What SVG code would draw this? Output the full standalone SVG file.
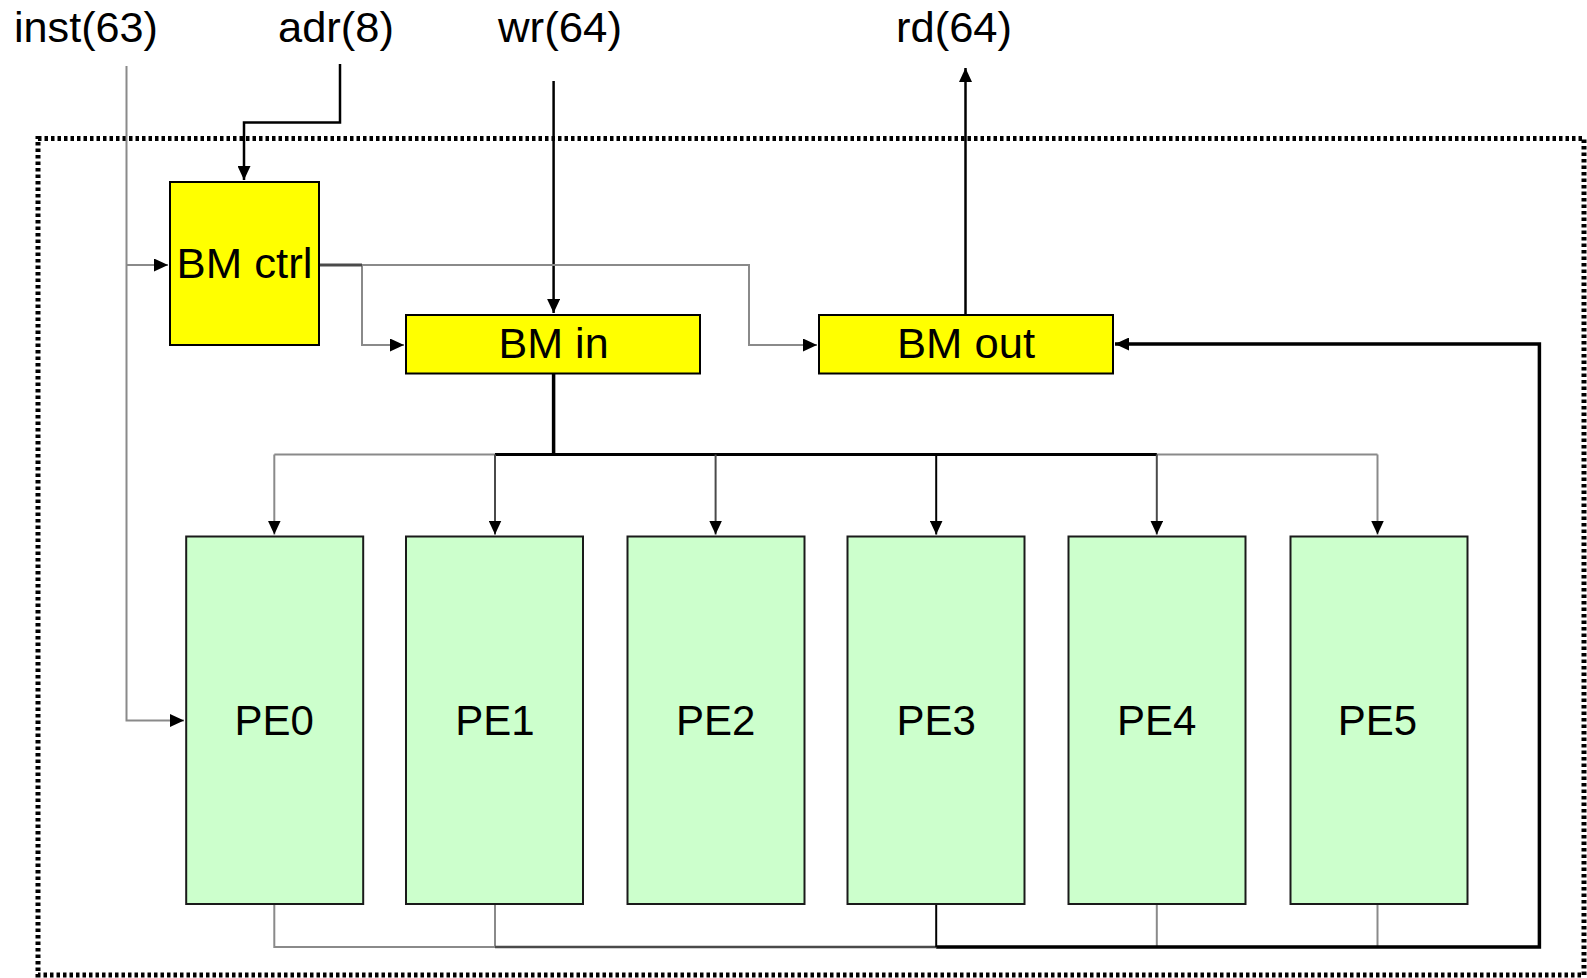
<svg xmlns="http://www.w3.org/2000/svg" width="1587" height="978" viewBox="0 0 1587 978">
<style>
text{font-family:"Liberation Sans",Arial,sans-serif;font-size:42px;fill:#000;text-anchor:middle}
.y{fill:#FFFF00;stroke:#000;stroke-width:2}
.g{fill:#CCFFCC;stroke:#1a1a1a;stroke-width:2}
.c{fill:none;stroke-linejoin:miter}
.gr{stroke:#8a8a8a;stroke-width:2}
.dg{stroke:#4a4a4a;stroke-width:2}
.bk{stroke:#000;stroke-width:2.5}
.bt{stroke:#000;stroke-width:3.5}
</style>
<defs>
<marker id="ah" markerUnits="userSpaceOnUse" markerWidth="15" markerHeight="13" refX="14" refY="6.5" orient="auto">
<path d="M0,0 L14,6.5 L0,13 Z" fill="#000"/>
</marker>
</defs>
<rect x="38" y="138.5" width="1546" height="836.5" fill="none" stroke="#000" stroke-width="5" stroke-dasharray="3.5 3"/>
<g id="labels">
<text x="86" y="42" textLength="144" lengthAdjust="spacingAndGlyphs">inst(63)</text>
<text x="336" y="42" textLength="116" lengthAdjust="spacingAndGlyphs">adr(8)</text>
<text x="560" y="42" textLength="124" lengthAdjust="spacingAndGlyphs">wr(64)</text>
<text x="954" y="42" textLength="116" lengthAdjust="spacingAndGlyphs">rd(64)</text>
</g>
<g id="connectors">
<path class="c gr" d="M126.5 66 V720.5 H184" marker-end="url(#ah)"/>
<path class="c gr" d="M126.5 265 H168" marker-end="url(#ah)"/>
<path class="c bk" d="M340 64 V122.5 H244 V180" marker-end="url(#ah)"/>
<path class="c bk" d="M553.6 81 V313" marker-end="url(#ah)"/>
<path class="c bk" d="M965.5 315 V68" marker-end="url(#ah)"/>
<path class="c gr" d="M319 265 H749 V345 H817" marker-end="url(#ah)"/>
<path class="c gr" d="M362 265 V345 H404" marker-end="url(#ah)"/>
<path class="c dg" d="M319 265 H362" style="stroke-width:3"/>
<path class="c bt" d="M553.6 373.5 V454.5"/>
<path class="c gr" d="M274.3 454.5 H1377.5"/>
<path class="c bt" d="M495 454.5 H1156.8" style="stroke-width:3"/>
<path class="c gr" d="M274.3 454.5 V534.5" marker-end="url(#ah)"/>
<path class="c dg" d="M495 454.5 V534.5" marker-end="url(#ah)"/>
<path class="c dg" d="M715.6 454.5 V534.5" marker-end="url(#ah)"/>
<path class="c bk" d="M936.2 454.5 V534.5" style="stroke-width:2" marker-end="url(#ah)"/>
<path class="c dg" d="M1156.8 454.5 V534.5" marker-end="url(#ah)"/>
<path class="c gr" d="M1377.5 454.5 V534.5" marker-end="url(#ah)"/>
<path class="c gr" d="M274.3 904 V947 H495"/>
<path class="c gr" d="M495 904 V947"/>
<path class="c dg" d="M495 947 H936.2" style="stroke-width:2.5"/>
<path class="c bk" d="M936.2 904 V947" style="stroke-width:2"/>
<path class="c gr" d="M1156.8 904 V947"/>
<path class="c gr" d="M1377.5 904 V947"/>
<path class="c bt" d="M936.2 947 H1539.4 V344 H1115" marker-end="url(#ah)"/>
</g>
<g id="bm-ctrl"><rect class="y" x="170" y="182" width="149" height="163"/><text x="244.5" y="278" textLength="136" lengthAdjust="spacingAndGlyphs">BM ctrl</text></g>
<g id="bm-in"><rect class="y" x="406" y="315" width="294" height="58.5"/><text x="553.6" y="358" textLength="110" lengthAdjust="spacingAndGlyphs">BM in</text></g>
<g id="bm-out"><rect class="y" x="819" y="315" width="294" height="58.5"/><text x="966" y="358" textLength="138" lengthAdjust="spacingAndGlyphs">BM out</text></g>
<g id="pe0"><rect class="g" x="186.2" y="536.5" width="177" height="367.5"/><text x="274.3" y="735">PE0</text></g>
<g id="pe1"><rect class="g" x="406" y="536.5" width="177" height="367.5"/><text x="495" y="735">PE1</text></g>
<g id="pe2"><rect class="g" x="627.5" y="536.5" width="177" height="367.5"/><text x="715.6" y="735">PE2</text></g>
<g id="pe3"><rect class="g" x="847.5" y="536.5" width="177" height="367.5"/><text x="936.2" y="735">PE3</text></g>
<g id="pe4"><rect class="g" x="1068.5" y="536.5" width="177" height="367.5"/><text x="1156.8" y="735">PE4</text></g>
<g id="pe5"><rect class="g" x="1290.5" y="536.5" width="177" height="367.5"/><text x="1377.5" y="735">PE5</text></g>
</svg>
